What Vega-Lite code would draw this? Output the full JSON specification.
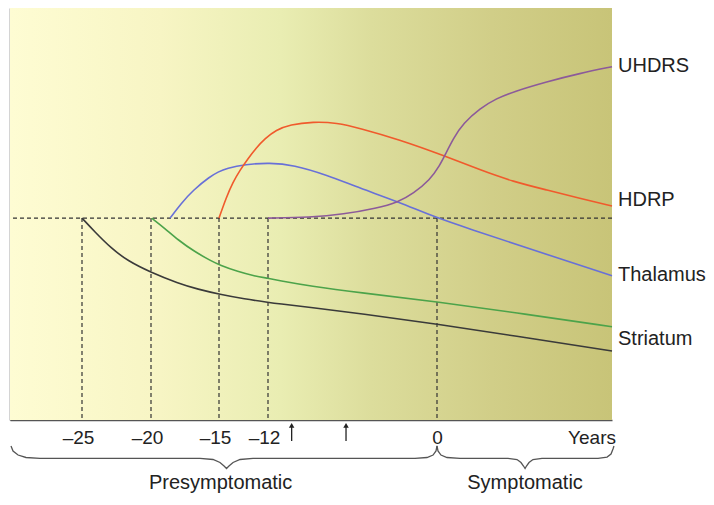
{
  "$schema": "https://vega.github.io/schema/vega-lite/v6.json",
  "width": 602,
  "height": 412,
  "autosize": {"type": "none"},
  "padding": {"left": 10, "top": 8, "right": 102, "bottom": 85},
  "background": "white",
  "config": {"font": "Liberation Sans", "view": {"stroke": null}},
  "datasets": {
    "curves": [
      {"series": "Striatum2", "year": -25, "level": 49.0},
      {"series": "Striatum2", "year": -24.08, "level": 45.7},
      {"series": "Striatum2", "year": -22.88, "level": 41.67},
      {"series": "Striatum2", "year": -21.67, "level": 38.59},
      {"series": "Striatum2", "year": -20.02, "level": 35.85},
      {"series": "Striatum2", "year": -18.01, "level": 33.18},
      {"series": "Striatum2", "year": -16.54, "level": 31.72},
      {"series": "Striatum2", "year": -14.96, "level": 30.51},
      {"series": "Striatum2", "year": -13.43, "level": 29.37},
      {"series": "Striatum2", "year": -12, "level": 28.57},
      {"series": "Striatum2", "year": -11.29, "level": 28.23},
      {"series": "Striatum2", "year": -9.02, "level": 27.35},
      {"series": "Striatum2", "year": -5.47, "level": 25.85},
      {"series": "Striatum2", "year": 0, "level": 23.3},
      {"series": "Striatum2", "year": 6.24, "level": 20.0},
      {"series": "Striatum2", "year": 12.4, "level": 16.75},
      {"series": "Striatum1", "year": -19.95, "level": 49.0},
      {"series": "Striatum1", "year": -18.99, "level": 46.53},
      {"series": "Striatum1", "year": -18.01, "level": 43.69},
      {"series": "Striatum1", "year": -16.79, "level": 40.85},
      {"series": "Striatum1", "year": -15.57, "level": 38.59},
      {"series": "Striatum1", "year": -14.96, "level": 37.62},
      {"series": "Striatum1", "year": -13.84, "level": 36.0},
      {"series": "Striatum1", "year": -12.81, "level": 34.95},
      {"series": "Striatum1", "year": -12, "level": 34.39},
      {"series": "Striatum1", "year": -11.29, "level": 33.91},
      {"series": "Striatum1", "year": -9.02, "level": 32.52},
      {"series": "Striatum1", "year": -5.47, "level": 30.9},
      {"series": "Striatum1", "year": 0, "level": 28.71},
      {"series": "Striatum1", "year": 6.24, "level": 25.7},
      {"series": "Striatum1", "year": 12.4, "level": 22.65},
      {"series": "Thalamus", "year": -18.6, "level": 49.0},
      {"series": "Thalamus", "year": -17.79, "level": 52.55},
      {"series": "Thalamus", "year": -16.89, "level": 55.83},
      {"series": "Thalamus", "year": -15.66, "level": 59.1},
      {"series": "Thalamus", "year": -15.07, "level": 60.19},
      {"series": "Thalamus", "year": -14.53, "level": 61.09},
      {"series": "Thalamus", "year": -13.41, "level": 62.06},
      {"series": "Thalamus", "year": -11.86, "level": 62.45},
      {"series": "Thalamus", "year": -10.2, "level": 61.89},
      {"series": "Thalamus", "year": -7.83, "level": 59.47},
      {"series": "Thalamus", "year": -5.47, "level": 56.24},
      {"series": "Thalamus", "year": -2.75, "level": 52.99},
      {"series": "Thalamus", "year": 0, "level": 49.0},
      {"series": "Thalamus", "year": 2.57, "level": 46.12},
      {"series": "Thalamus", "year": 6.27, "level": 41.87},
      {"series": "Thalamus", "year": 12.4, "level": 35.02},
      {"series": "HDRP", "year": -15, "level": 49.0},
      {"series": "HDRP", "year": -14.57, "level": 53.88},
      {"series": "HDRP", "year": -14.14, "level": 57.77},
      {"series": "HDRP", "year": -13.71, "level": 60.68},
      {"series": "HDRP", "year": -13.22, "level": 63.47},
      {"series": "HDRP", "year": -12.73, "level": 66.02},
      {"series": "HDRP", "year": -12.18, "level": 68.33},
      {"series": "HDRP", "year": -11.43, "level": 70.39},
      {"series": "HDRP", "year": -10.44, "level": 71.72},
      {"series": "HDRP", "year": -8.79, "level": 72.4},
      {"series": "HDRP", "year": -7.12, "level": 72.16},
      {"series": "HDRP", "year": -5.47, "level": 70.8},
      {"series": "HDRP", "year": -2.75, "level": 68.13},
      {"series": "HDRP", "year": 0.57, "level": 64.08},
      {"series": "HDRP", "year": 3.05, "level": 60.68},
      {"series": "HDRP", "year": 5.41, "level": 57.84},
      {"series": "HDRP", "year": 7.77, "level": 55.83},
      {"series": "HDRP", "year": 10.13, "level": 53.81},
      {"series": "HDRP", "year": 12.4, "level": 51.94},
      {"series": "UHDRS", "year": -12, "level": 49.0},
      {"series": "UHDRS", "year": -9.02, "level": 49.2},
      {"series": "UHDRS", "year": -6.65, "level": 49.93},
      {"series": "UHDRS", "year": -4.28, "level": 51.38},
      {"series": "UHDRS", "year": -2.75, "level": 52.9},
      {"series": "UHDRS", "year": -1.68, "level": 55.02},
      {"series": "UHDRS", "year": -0.5, "level": 58.25},
      {"series": "UHDRS", "year": 0.21, "level": 61.89},
      {"series": "UHDRS", "year": 0.57, "level": 64.32},
      {"series": "UHDRS", "year": 1.16, "level": 68.37},
      {"series": "UHDRS", "year": 1.86, "level": 72.01},
      {"series": "UHDRS", "year": 3.05, "level": 75.66},
      {"series": "UHDRS", "year": 4.23, "level": 78.08},
      {"series": "UHDRS", "year": 5.41, "level": 79.68},
      {"series": "UHDRS", "year": 7.77, "level": 82.11},
      {"series": "UHDRS", "year": 10.13, "level": 84.15},
      {"series": "UHDRS", "year": 12.4, "level": 85.75}
    ],
    "onsets": [
      {"year": -25, "level": 49},
      {"year": -20, "level": 49},
      {"year": -15, "level": 49},
      {"year": -12, "level": 49},
      {"year": 0, "level": 49}
    ],
    "labels": [
      {"label": "UHDRS", "level": 85.9},
      {"label": "HDRP", "level": 53.4},
      {"label": "Thalamus", "level": 35.2},
      {"label": "Striatum", "level": 19.66}
    ],
    "braces": [
      {"brace": "pre", "year": -29.93, "level": -6.31},
      {"brace": "pre", "year": -29.79, "level": -7.52},
      {"brace": "pre", "year": -29.44, "level": -8.5},
      {"brace": "pre", "year": -28.89, "level": -9.1},
      {"brace": "pre", "year": -27.92, "level": -9.3},
      {"brace": "pre", "year": -16.4, "level": -9.3},
      {"brace": "pre", "year": -15.44, "level": -9.59},
      {"brace": "pre", "year": -14.94, "level": -10.32},
      {"brace": "pre", "year": -14.69, "level": -11.17},
      {"brace": "pre", "year": -14.54, "level": -11.77},
      {"brace": "pre", "year": -14.39, "level": -11.17},
      {"brace": "pre", "year": -14.14, "level": -10.32},
      {"brace": "pre", "year": -13.71, "level": -9.59},
      {"brace": "pre", "year": -12.92, "level": -9.3},
      {"brace": "pre", "year": -1.56, "level": -9.3},
      {"brace": "pre", "year": -0.71, "level": -9.1},
      {"brace": "pre", "year": -0.28, "level": -8.5},
      {"brace": "pre", "year": -0.07, "level": -7.52},
      {"brace": "pre", "year": 0, "level": -6.31},
      {"brace": "sym", "year": 0, "level": -6.31},
      {"brace": "sym", "year": 0.07, "level": -7.52},
      {"brace": "sym", "year": 0.28, "level": -8.5},
      {"brace": "sym", "year": 0.71, "level": -9.1},
      {"brace": "sym", "year": 1.63, "level": -9.3},
      {"brace": "sym", "year": 5.03, "level": -9.3},
      {"brace": "sym", "year": 5.67, "level": -9.59},
      {"brace": "sym", "year": 5.95, "level": -10.32},
      {"brace": "sym", "year": 6.13, "level": -11.17},
      {"brace": "sym", "year": 6.24, "level": -11.77},
      {"brace": "sym", "year": 6.34, "level": -11.17},
      {"brace": "sym", "year": 6.52, "level": -10.32},
      {"brace": "sym", "year": 6.8, "level": -9.59},
      {"brace": "sym", "year": 7.44, "level": -9.3},
      {"brace": "sym", "year": 11.41, "level": -9.3},
      {"brace": "sym", "year": 12.05, "level": -9.0},
      {"brace": "sym", "year": 12.33, "level": -8.25},
      {"brace": "sym", "year": 12.47, "level": -7.04},
      {"brace": "sym", "year": 12.54, "level": -6.31}
    ],
    "phases": [
      {"label": "Presymptomatic", "year": -14.9, "level": -15.3},
      {"label": "Symptomatic", "year": 6.24, "level": -15.3}
    ],
    "arrows": [
      {"year": -10.32},
      {"year": -6.46}
    ]
  },
  "layer": [
    {
      "data": {"values": [{}]},
      "mark": {
        "type": "rect",
        "fill": {
          "gradient": "linear", "x1": 0, "x2": 1, "y1": 0, "y2": 0,
          "stops": [
            {"offset": 0, "color": "#FEFCD3"},
            {"offset": 0.25, "color": "#F7F5C4"},
            {"offset": 0.45, "color": "#E9EDB2"},
            {"offset": 0.6, "color": "#DCDD9C"},
            {"offset": 0.8, "color": "#D1CE88"},
            {"offset": 1, "color": "#C8C478"}
          ]
        }
      },
      "encoding": {}
    },
    {
      "data": {"name": "onsets"},
      "mark": {"type": "rule", "color": "#333333", "strokeDash": [4, 3], "strokeWidth": 1.2},
      "encoding": {
        "x": {
          "field": "year", "type": "quantitative",
          "scale": {"type": "linear", "domain": [-30, -25, -20, -15, -12, 0, 12.4], "range": [0, 72, 141, 209, 258, 427, 602], "nice": false, "zero": false},
          "axis": {
            "values": [-25, -20, -15, -12, 0],
            "labelExpr": "datum.value == 0 ? '0' : '–' + abs(datum.value)",
            "title": null, "grid": false, "ticks": false, "tickSize": 0,
            "domainColor": "#555555", "domainWidth": 1.5,
            "labelFontSize": 19, "labelColor": "#222222", "labelFont": "Liberation Sans",
            "labelBaseline": "middle", "labelPadding": 17, "labelFlush": false,
            "labelOffset": {"condition": {"test": "datum.value != 0", "value": -4}, "value": 0}
          }
        },
        "y": {
          "field": "level", "type": "quantitative",
          "scale": {"domain": [0, 100], "nice": false, "zero": false},
          "axis": {"title": null, "grid": false, "ticks": false, "labels": false, "domainColor": "#555555", "domainWidth": 1.5}
        },
        "y2": {"datum": 0}
      }
    },
    {
      "data": {"name": "onsets"},
      "transform": [{"filter": "datum.year == 0"}],
      "mark": {"type": "rule", "color": "#333333", "strokeDash": [4, 3], "strokeWidth": 1.2},
      "encoding": {
        "y": {"field": "level", "type": "quantitative"}
      }
    },
    {
      "data": {"name": "curves"},
      "mark": {"type": "line", "interpolate": "basis", "strokeWidth": 1.6},
      "encoding": {
        "x": {"field": "year", "type": "quantitative"},
        "y": {"field": "level", "type": "quantitative"},
        "color": {
          "field": "series", "type": "nominal", "legend": null,
          "scale": {
            "domain": ["Striatum2", "Striatum1", "Thalamus", "HDRP", "UHDRS"],
            "range": ["#3a3a3a", "#4ca34a", "#6870d8", "#f05a2c", "#8c5a9a"]
          }
        }
      }
    },
    {
      "data": {"name": "labels"},
      "mark": {"type": "text", "align": "left", "baseline": "middle", "dx": 6, "fontSize": 20, "color": "#222222"},
      "encoding": {
        "x": {"datum": 12.4},
        "y": {"field": "level", "type": "quantitative"},
        "text": {"field": "label"}
      }
    },
    {
      "data": {"name": "braces"},
      "mark": {"type": "line", "color": "#555555", "strokeWidth": 1.3},
      "encoding": {
        "x": {"field": "year", "type": "quantitative"},
        "y": {"field": "level", "type": "quantitative"},
        "detail": {"field": "brace"}
      }
    },
    {
      "data": {"name": "phases"},
      "mark": {"type": "text", "align": "center", "baseline": "middle", "fontSize": 20, "color": "#222222"},
      "encoding": {
        "x": {"field": "year", "type": "quantitative"},
        "y": {"field": "level", "type": "quantitative"},
        "text": {"field": "label"}
      }
    },
    {
      "data": {"values": [{"label": "Years"}]},
      "mark": {"type": "text", "align": "right", "baseline": "middle", "fontSize": 19, "dx": 4, "color": "#222222"},
      "encoding": {
        "x": {"datum": 12.4},
        "y": {"datum": -4.3},
        "text": {"field": "label"}
      }
    },
    {
      "data": {"name": "arrows"},
      "mark": {"type": "rule", "color": "#222222", "strokeWidth": 1.3},
      "encoding": {
        "x": {"field": "year", "type": "quantitative"},
        "y": {"datum": -1.5},
        "y2": {"datum": -5.1}
      }
    },
    {
      "data": {"name": "arrows"},
      "mark": {"type": "point", "shape": "triangle-up", "filled": true, "color": "#222222", "size": 30, "opacity": 1},
      "encoding": {
        "x": {"field": "year", "type": "quantitative"},
        "y": {"datum": -1.3}
      }
    }
  ]
}
